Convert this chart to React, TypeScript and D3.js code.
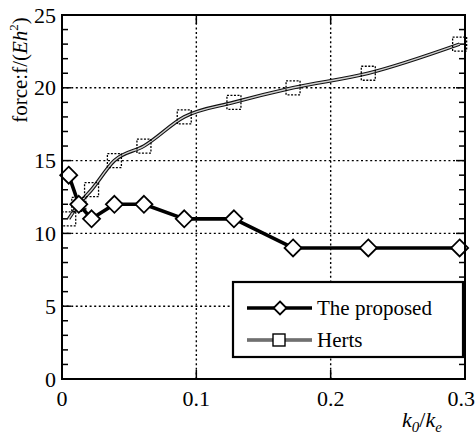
import React from "react";
import * as d3 from "d3";

// k0/ke sample positions
const ratios = [0.005, 0.0125, 0.022, 0.039, 0.061, 0.091, 0.128, 0.172, 0.228, 0.296];
const proposed = [14, 12, 11, 12, 12, 11, 11, 9, 9, 9];
const herts = [11, 12, 13, 15, 16, 18, 19, 20, 21, 23];
const xTicks = [0, 0.1, 0.2, 0.3];
const yTicks = [0, 5, 10, 15, 20, 25];
const yMinor = d3.range(0, 26, 1);
const seriesNames = ["The proposed", "Herts"];

const W = 476;
const H = 437;
const margin = { top: 15, right: 11, bottom: 58, left: 62 };
const font = "'Liberation Serif', 'Times New Roman', serif";

const App = () => {
  const x = d3.scaleLinear().domain([0, 0.3]).range([margin.left, W - margin.right]);
  const y = d3.scaleLinear().domain([0, 25]).range([H - margin.bottom, margin.top]);
  const [x0, x1] = x.range();
  const [y0, y1] = y.range();

  const straight = d3
    .line<number>()
    .x((_, i) => x(ratios[i]))
    .y((d) => y(d));
  const smooth = d3
    .line<number>()
    .x((_, i) => x(ratios[i]))
    .y((d) => y(d))
    .curve(d3.curveMonotoneX);

  const diamond = (cx: number, cy: number, r: number) =>
    `M${cx},${cy - r}L${cx + r},${cy}L${cx},${cy + r}L${cx - r},${cy}Z`;

  const sq = 14;
  const dr = 8.5;

  // legend layout
  const lg = { x: 233, y: 282, w: 230, h: 75 };
  const rows = [308, 340];

  return (
    <div style={{ position: "absolute", left: 0, top: 0 }}>
      <svg width={W} height={H} style={{ display: "block", background: "#fff" }}>
        <rect width={W} height={H} fill="#fff" />

        {/* grid */}
        <g stroke="#000" strokeWidth={1.4} strokeDasharray="2,2.6">
          {yTicks.slice(1, -1).map((t) => (
            <line key={"gy" + t} x1={x0} x2={x1} y1={y(t)} y2={y(t)} />
          ))}
          {xTicks.slice(1, -1).map((t) => (
            <line key={"gx" + t} x1={x(t)} x2={x(t)} y1={y0} y2={y1} />
          ))}
        </g>

        {/* minor + major ticks */}
        <g stroke="#000" strokeWidth={1.5}>
          {yMinor.map((t) => {
            const len = t % 5 === 0 ? 9 : 6;
            return (
              <g key={"my" + t}>
                <line x1={x0} x2={x0 + len} y1={y(t)} y2={y(t)} />
                <line x1={x1} x2={x1 - len} y1={y(t)} y2={y(t)} />
              </g>
            );
          })}
          {xTicks.map((t) => (
            <g key={"mx" + t}>
              <line x1={x(t)} x2={x(t)} y1={y0} y2={y0 - 9} />
              <line x1={x(t)} x2={x(t)} y1={y1} y2={y1 + 9} />
            </g>
          ))}
        </g>

        {/* Herts: double stroked smooth curve */}
        <path d={smooth(herts) || ""} fill="none" stroke="#111" strokeWidth={3.6} />
        <path d={smooth(herts) || ""} fill="none" stroke="#d0d0d0" strokeWidth={1.4} />
        {herts.map((v, i) => (
          <rect
            key={"h" + i}
            x={x(ratios[i]) - sq / 2}
            y={y(v) - sq / 2}
            width={sq}
            height={sq}
            fill="none"
            stroke="#000"
            strokeWidth={1.3}
            strokeDasharray="2,1.5"
          />
        ))}

        {/* The proposed */}
        <path d={straight(proposed) || ""} fill="none" stroke="#000" strokeWidth={3.6} strokeLinejoin="round" />
        {proposed.map((v, i) => (
          <path key={"p" + i} d={diamond(x(ratios[i]), y(v), dr)} fill="#fff" stroke="#000" strokeWidth={1.8} />
        ))}

        {/* frame */}
        <rect x={x0} y={y1} width={x1 - x0} height={y0 - y1} fill="none" stroke="#000" strokeWidth={2} />

        {/* tick labels */}
        <g fontFamily={font} fontSize={22} fill="#000">
          {yTicks.map((t) => (
            <text key={"ly" + t} x={x0 - 6} y={y(t)} textAnchor="end" dominantBaseline="central">
              {t}
            </text>
          ))}
          {xTicks.map((t, i) => (
            <text
              key={"lx" + t}
              x={i === xTicks.length - 1 ? W - 1 : x(t)}
              y={406}
              textAnchor={i === xTicks.length - 1 ? "end" : "middle"}
            >
              {t === 0 ? "0" : d3.format(".1f")(t)}
            </text>
          ))}
        </g>

        {/* axis titles */}
        <text fontFamily={font} fontSize={22} x={402} y={427} fill="#000">
          <tspan fontStyle="italic">k</tspan>
          <tspan fontStyle="italic" fontSize={15} dy={5}>0</tspan>
          <tspan dy={-5}>/</tspan>
          <tspan fontStyle="italic">k</tspan>
          <tspan fontStyle="italic" fontSize={15} dy={5}>e</tspan>
        </text>
        <text
          fontFamily={font}
          fontSize={21}
          fill="#000"
          transform={`translate(27,70) rotate(-90)`}
          textAnchor="middle"
        >
          force:f/(<tspan fontStyle="italic">Eh</tspan>
          <tspan fontSize={13} dy={-9}>2</tspan>
          <tspan dy={9}>)</tspan>
        </text>

        {/* legend */}
        <rect x={lg.x} y={lg.y} width={lg.w} height={lg.h} fill="#fff" stroke="#000" strokeWidth={2.2} />
        <line x1={247} x2={312} y1={rows[0]} y2={rows[0]} stroke="#000" strokeWidth={3.4} />
        <path d={diamond(280, rows[0], 6.5)} fill="#fff" stroke="#000" strokeWidth={1.8} />
        <line x1={247} x2={312} y1={rows[1]} y2={rows[1]} stroke="#111" strokeWidth={3} />
        <line x1={247} x2={312} y1={rows[1]} y2={rows[1]} stroke="#d0d0d0" strokeWidth={1.2} />
        <rect x={273} y={rows[1] - 6} width={12} height={12} fill="#fff" stroke="#000" strokeWidth={1.4} />
        <g fontFamily={font} fontSize={21} fill="#000">
          <text x={317} y={rows[0] + 7}>{seriesNames[0]}</text>
          <text x={317} y={rows[1] + 7}>{seriesNames[1]}</text>
        </g>
      </svg>
    </div>
  );
};

export default App;
